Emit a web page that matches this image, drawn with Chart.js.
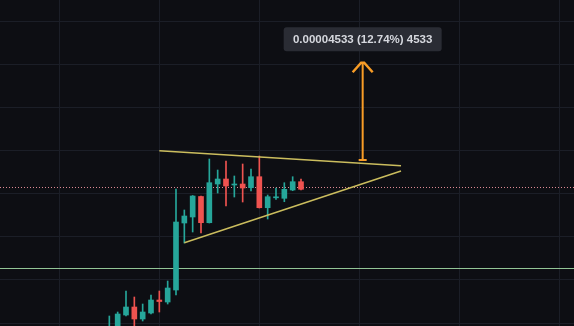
<!DOCTYPE html>
<html>
<head>
<meta charset="utf-8">
<script src="https://cdn.jsdelivr.net/npm/chart.js@4.4.1/dist/chart.umd.min.js"></script>
<style>
  html, body { margin: 0; padding: 0; background: #0d0e13; overflow: hidden; }
</style>
</head>
<body>
<canvas id="chart" width="574" height="326"></canvas>
<script>
// candles (price per candle index)
const opens  = [0.00027303, 0.00027675, 0.00028371, 0.00028743, 0.00028186, 0.00028464, 0.00029068, 0.00028975,
                0.00029532, 0.00032644, 0.00032923, 0.00033875, 0.00032658, 0.00034455, 0.00034687, 0.00034409,
                0.00034455, 0.00034283, 0.00034794, 0.00033354, 0.00033814, 0.00033791, 0.00034176, 0.00034562];
const highs  = [0.00028325, 0.00028511, 0.00029486, 0.00029207, 0.00028882, 0.00029300, 0.00029486, 0.00029950,
                0.00034223, 0.00033248, 0.00033921, 0.00033898, 0.00035616, 0.00035105, 0.00035523, 0.00034827,
                0.00035384, 0.00035152, 0.00035755, 0.00033944, 0.00034269, 0.00034515, 0.00034794, 0.00034687];
const lows   = [0.00027118, 0.00027535, 0.00028325, 0.00027768, 0.00028093, 0.00028418, 0.00028511, 0.00028882,
                0.00029300, 0.00031715, 0.00032226, 0.00032179, 0.00032644, 0.00034037, 0.00033433, 0.00033851,
                0.00033619, 0.00034130, 0.00033340, 0.00032830, 0.00033735, 0.00033633, 0.00034144, 0.00034176];
const closes = [0.00027814, 0.00028418, 0.00028743, 0.00028186, 0.00028511, 0.00029068, 0.00028998, 0.00029625,
                0.00032690, 0.00032969, 0.00033898, 0.00032658, 0.00034516, 0.00034687, 0.00034362, 0.00034455,
                0.00034269, 0.00034794, 0.00033354, 0.00033865, 0.00033851, 0.00034209, 0.00034562, 0.00034209];

// visible window and grid
const xRange = [-13.12, 55.76];
const yRange = [0.00027861, 0.00043];
const gridX  = [-6, 6, 18, 30, 42, 54];
const gridY  = [0.00028, 0.0003, 0.00032, 0.00034, 0.00036, 0.00038, 0.0004, 0.00042];

// drawings
const lastPrice   = 0.00034293;
const supportLvl  = 0.00030531;
const upperTrend  = [[6, 0.00036002], [35, 0.00035305]];
const lowerTrend  = [[9, 0.00031729], [35, 0.00035059]];
const measureX    = 30.4;
const measureFrom = 0.00035575;
const measureTo   = 0.00040108;

const UP = '#26a69a', DOWN = '#ef5350', ORANGE = '#f89c26', TREND = '#cbbd5e';

const idx    = opens.map((_, i) => i);
const colors = idx.map(i => closes[i] >= opens[i] ? UP : DOWN);
const level  = (v) => [{ x: xRange[0], y: v }, { x: xRange[1], y: v }];
const pts    = (arr) => arr.map(([x, y]) => ({ x, y }));

const measurePlugin = {
  id: 'measure',
  afterDatasetsDraw(chart) {
    const { ctx, scales: { x, y } } = chart;
    const px = x.getPixelForValue(measureX);
    const y0 = y.getPixelForValue(measureFrom);
    const y1 = y.getPixelForValue(measureTo);
    ctx.save();
    ctx.strokeStyle = ORANGE;
    ctx.lineWidth = 2;
    ctx.beginPath();
    ctx.moveTo(px, y0); ctx.lineTo(px, y1 + 1);
    ctx.moveTo(px - 4, y0); ctx.lineTo(px + 4, y0);
    ctx.stroke();
    ctx.lineWidth = 2.5;
    ctx.lineJoin = 'miter';
    ctx.beginPath();
    ctx.moveTo(px - 10, y1 + 10); ctx.lineTo(px - 1.5, y1 + 0.5); ctx.lineTo(px + 1.5, y1 + 0.5); ctx.lineTo(px + 10, y1 + 10);
    ctx.stroke();

    // label box
    const diff  = measureTo - measureFrom;
    const txt   = `${diff.toFixed(8)} (${(diff / measureFrom * 100).toFixed(2)}%) ${Math.round(diff * 1e8)}`;
    const w = 158, h = 24, top = y1 - 35;
    ctx.fillStyle = '#2a2c34';
    ctx.beginPath();
    ctx.roundRect(px - w / 2, top, w, h, 3);
    ctx.fill();
    ctx.fillStyle = '#d6d8de';
    ctx.font = 'bold 11.5px "Liberation Sans", Arial, sans-serif';
    ctx.textAlign = 'center';
    ctx.textBaseline = 'middle';
    ctx.fillText(txt, px, top + h / 2 + 0.5);
    ctx.restore();
  }
};

const gridOpts = { color: '#1b1e27', drawTicks: false, offset: false, lineWidth: 1 };

new Chart(document.getElementById('chart'), {
  type: 'bar',
  data: {
    datasets: [
      { type: 'line', data: level(supportLvl), borderColor: '#92c496', borderWidth: 1, pointRadius: 0, order: 10 },
      { type: 'line', data: level(lastPrice), borderColor: '#e08a95', borderWidth: 1, borderDash: [1, 2], pointRadius: 0, order: 10 },
      { data: idx.map(i => ({ x: i, y: [lows[i], highs[i]] })), backgroundColor: colors, barThickness: 1, grouped: false, order: 5 },
      { data: idx.map(i => ({ x: i, y: [opens[i], closes[i]] })), backgroundColor: colors, barThickness: 5, minBarLength: 1, grouped: false, order: 4 },
      { type: 'line', data: pts(upperTrend), borderColor: TREND, borderWidth: 1.5, pointRadius: 0, order: 1 },
      { type: 'line', data: pts(lowerTrend), borderColor: TREND, borderWidth: 1.5, pointRadius: 0, order: 1 },
    ]
  },
  options: {
    responsive: false,
    animation: false,
    layout: { padding: 0 },
    plugins: { legend: { display: false }, tooltip: { enabled: false } },
    scales: {
      x: {
        type: 'linear', min: xRange[0], max: xRange[1], offset: false,
        grid: gridOpts, border: { display: false }, ticks: { display: false },
        afterBuildTicks: s => { s.ticks = gridX.map(v => ({ value: v })); }
      },
      y: {
        type: 'linear', min: yRange[0], max: yRange[1],
        grid: gridOpts, border: { display: false }, ticks: { display: false },
        afterBuildTicks: s => { s.ticks = gridY.map(v => ({ value: v })); }
      }
    }
  },
  plugins: [measurePlugin]
});
</script>
</body>
</html>
